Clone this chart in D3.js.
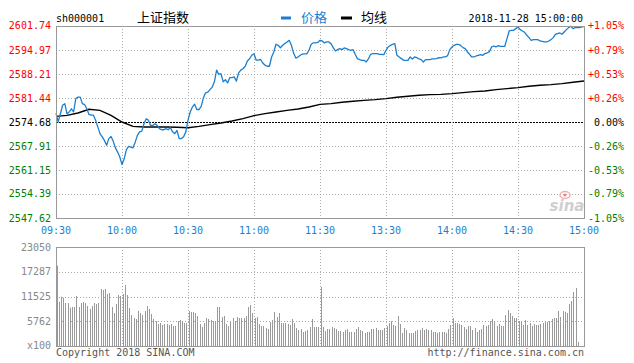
<!DOCTYPE html>
<html><head><meta charset="utf-8">
<script src="https://cdn.jsdelivr.net/npm/d3@7/dist/d3.min.js"></script>
<style>
html,body{margin:0;padding:0;background:#fff;}
svg{display:block;}
</style></head>
<body><div id="chart"></div>
<script>
// ---------- DATA ----------
const symbol = "sh000001";
const indexName = "上证指数";
const legendNames = ["价格", "均线"];
const timestamp = "2018-11-28 15:00:00";
const priceTicks = [2601.74, 2594.97, 2588.21, 2581.44, 2574.68, 2567.91, 2561.15, 2554.39, 2547.62];
const pctLabels = ["+1.05%", "+0.79%", "+0.53%", "+0.26%", "0.00%", "-0.26%", "-0.53%", "-0.79%", "-1.05%"];
const prevClose = 2574.68;
const timeTickMinutes = [0, 30, 60, 90, 120, 150, 180, 210, 240];
const timeLabels = ["09:30", "10:00", "10:30", "11:00", "11:30", "13:30", "14:00", "14:30", "15:00"];
const volTicks = [23050, 17287, 11525, 5762];
const volUnitLabel = "x100";

// minute-by-minute price (0 = 09:30 ... 120 = 11:30/13:00 ... 240 = 15:00)
const prices = [
 2577.2,2574.7,2577.0,2579.4,2579.85,2577.0,2577.5,2578.4,2577.5,2581.3,
 2581.7,2581.7,2579.85,2579.6,2578.4,2576.8,2576.6,2576.6,2575.2,2573.3,
 2571.4,2570.5,2569.5,2568.1,2570.0,2570.6,2569.3,2567.4,2566.2,2564.8,
 2562.7,2564.3,2566.9,2567.8,2567.6,2567.4,2569.0,2570.9,2571.9,2572.1,
 2574.2,2575.6,2575.2,2573.7,2573.7,2574.2,2573.7,2572.8,2572.5,2572.5,
 2572.8,2572.5,2573.1,2571.9,2571.4,2572.3,2570.0,2570.0,2570.5,2571.9,
 2575.2,2577.5,2578.9,2579.7,2578.2,2578.2,2579.1,2581.5,2582.9,2583.1,
 2583.8,2584.5,2586.0,2589.3,2588.1,2588.3,2586.0,2586.6,2585.7,2587.2,
 2587.2,2587.4,2586.2,2588.5,2589.3,2589.7,2590.4,2591.9,2592.5,2593.5,
 2593.9,2592.1,2592.1,2592.3,2591.3,2590.7,2590.4,2590.4,2593.0,2594.4,
 2596.6,2596.3,2595.6,2596.3,2596.8,2597.2,2597.7,2596.3,2594.1,2592.7,
 2593.0,2593.5,2593.8,2593.9,2593.9,2594.9,2596.6,2597.0,2597.0,2597.1,
 2597.7,
 2597.52,2596.96,2597.24,2597.24,2596.77,2595.64,2594.70,2595.08,2595.36,2595.08,
 2595.55,2595.36,2595.08,2594.89,2595.08,2593.76,2592.54,2592.26,2592.07,2592.07,
 2591.60,2592.45,2593.76,2593.95,2593.95,2593.95,2593.76,2593.76,2593.67,2594.89,
 2595.83,2596.30,2596.58,2596.77,2593.48,2593.01,2592.54,2592.07,2592.07,2592.07,
 2593.01,2592.45,2593.01,2592.82,2592.45,2592.26,2591.60,2592.26,2592.26,2592.26,
 2592.45,2592.45,2592.54,2592.82,2592.73,2593.01,2593.01,2593.39,2595.08,2595.83,
 2596.30,2596.58,2596.58,2596.21,2595.64,2595.36,2594.42,2593.76,2593.01,2593.01,
 2593.29,2593.48,2593.67,2593.48,2593.95,2594.14,2594.51,2595.83,2596.11,2595.83,
 2596.21,2596.02,2596.02,2596.02,2598.18,2600.34,2600.53,2600.53,2601.00,2601.47,
 2600.72,2600.34,2599.97,2599.12,2598.46,2597.71,2597.90,2597.90,2597.90,2597.52,
 2597.43,2597.24,2597.24,2597.52,2597.90,2598.46,2599.40,2599.59,2599.78,2599.40,
 2600.06,2600.72,2601.28,2601.66,2601.00,2601.28,2601.28,2601.28,2601.47,2601.56
];

// average price line, sampled every 5 minutes
const avgMinutes = [0,5,10,15,20,25,30,35,40,45,50,55,60,65,70,75,80,85,90,95,100,105,110,115,120,
  125,130,135,140,145,150,155,160,165,170,175,180,185,190,195,200,205,210,215,220,225,230,235,240];
const avgValues = [2576.28,2576.56,2577.22,2578.25,2577.97,2576.56,2574.68,2573.46,2573.27,2573.27,
  2573.27,2573.18,2573.08,2573.46,2573.93,2574.40,2574.96,2575.62,2576.47,2577.03,2577.50,2577.97,
  2578.35,2578.91,2579.66,2579.85,2580.23,2580.51,2580.79,2580.98,2581.26,2581.64,2581.92,2582.20,
  2582.39,2582.48,2582.67,2582.95,2583.23,2583.42,2583.80,2584.08,2584.36,2584.74,2585.02,2585.21,
  2585.49,2585.87,2586.24];

// minute volume (x100)
const volumes = [
 18700,10320,11480,11250,10010,10010,8920,9080,9080,11640,
 9080,10010,10240,10010,9310,8610,9310,10010,9780,10010,
 13270,13040,13270,12110,12340,9080,7680,9780,11870,11640,
 12110,14200,11870,8850,7220,6520,6290,8150,7680,7220,
 8150,9310,8610,7450,6290,5820,5120,5350,4890,5120,
 5120,4890,5120,4660,4660,5820,6050,5590,5350,5350,
 8150,7920,7920,7680,6980,5120,4420,5350,6520,6290,
 6050,5820,5820,9080,9080,6750,6980,5120,4660,5590,
 6520,5820,6750,6520,6520,6520,6980,9080,9540,7680,
 6520,6750,5120,4660,4660,4190,3960,5590,6050,7920,
 6750,7680,5350,5350,5350,5120,4890,6290,5350,4190,
 3720,3960,3260,3490,3720,4420,6290,4420,4420,4420,
 13735,
 4420,3490,3960,3960,4420,4190,3960,3490,3490,3260,
 3720,3960,3260,3260,3260,3960,4420,3720,3490,3030,
 3260,3260,3960,3960,4190,3720,3720,3720,4190,4660,
 5350,5820,4890,4660,6980,5120,3030,4190,3720,3030,
 3030,3030,3490,3720,3720,4190,3720,3960,3720,3720,
 3260,3260,3030,3260,3260,3260,3030,3960,4890,6520,
 5350,5350,5120,4890,4420,3960,4660,4660,3720,4190,
 3260,3720,3960,
 4890,4660,4890,5820,6290,5590,4660,5120,4660,4660,
 7220,8380,7680,6980,6520,6520,5820,5820,4890,6050,
 4890,5350,4660,5120,4890,4890,5120,5350,5590,5590,
 5820,6290,6520,6520,8150,6750,8150,7920,7680,9780,
 10480,12570,13500,930,
 0,0,0
];

// ---------- DRAW ----------
const W = 634, H = 363;
const L = 56, R = 584, PT = 26, PB = 218, VT = 247, VB = 346;
const mono = "'DejaVu Sans Mono', 'Liberation Mono', monospace";
const cjk = "'Noto Sans CJK SC', sans-serif";
const blue = "#1a7fd0", gridC = "#aaa", borderC = "#999";
const red = "#ff0000", green = "#008000";

const svg = d3.select("#chart").append("svg").attr("width", W).attr("height", H);

const x = d3.scaleLinear().domain([0, 240]).range([L, R]);
const y = d3.scaleLinear().domain([priceTicks[priceTicks.length-1], priceTicks[0]]).range([PB, PT]);
const yv = d3.scaleLinear().domain([0, volTicks[0]]).range([VB, VT]);
const px = v => Math.round(v) + 0.5;

// ---- header ----
svg.append("text").attr("x", L).attr("y", 18).attr("dy", "0.35em")
  .attr("font-family", mono).attr("font-size", 10).attr("fill", "#000").text(symbol);
svg.append("text").attr("x", 137).attr("y", 17).attr("dy", "0.36em")
  .attr("font-family", cjk).attr("font-size", 13).attr("fill", "#000").text(indexName);
svg.append("line").attr("x1", 281).attr("x2", 291).attr("y1", 18).attr("y2", 18)
  .attr("stroke", blue).attr("stroke-width", 3);
svg.append("text").attr("x", 301).attr("y", 17).attr("dy", "0.36em")
  .attr("font-family", cjk).attr("font-size", 13).attr("fill", blue).text(legendNames[0]);
svg.append("line").attr("x1", 341).attr("x2", 352).attr("y1", 18).attr("y2", 18)
  .attr("stroke", "#000").attr("stroke-width", 3);
svg.append("text").attr("x", 361).attr("y", 17).attr("dy", "0.36em")
  .attr("font-family", cjk).attr("font-size", 13).attr("fill", "#000").text(legendNames[1]);
svg.append("text").attr("x", 583).attr("y", 18).attr("dy", "0.35em").attr("text-anchor", "end")
  .attr("font-family", mono).attr("font-size", 10).attr("fill", "#000").text(timestamp);

// ---- price grid ----
const gPrice = svg.append("g");
priceTicks.forEach((v, i) => {
  if (i === 0 || i === priceTicks.length - 1) return;
  const yy = px(y(v));
  const base = Math.abs(v - prevClose) < 1e-6;
  gPrice.append("line").attr("x1", L).attr("x2", R).attr("y1", yy).attr("y2", yy)
    .attr("stroke", base ? "#000" : gridC).attr("stroke-width", 1)
    .attr("stroke-dasharray", base ? "2,1" : "1,2");
});
timeTickMinutes.forEach((m, i) => {
  if (i === 0 || i === timeTickMinutes.length - 1) return;
  const xx = px(x(m));
  gPrice.append("line").attr("x1", xx).attr("x2", xx).attr("y1", PT).attr("y2", PB)
    .attr("stroke", gridC).attr("stroke-dasharray", "1,2");
});

// sina watermark
const wm = svg.append("g");
wm.append("ellipse").attr("cx", 565).attr("cy", 195).attr("rx", 5).attr("ry", 3.5)
  .attr("fill", "none").attr("stroke", "#f3b0b0").attr("stroke-width", 1.5);
wm.append("circle").attr("cx", 565).attr("cy", 195).attr("r", 1.5).attr("fill", "#e88");
wm.append("text").attr("x", 567).attr("y", 211).attr("text-anchor", "middle")
  .attr("font-family", "'DejaVu Sans', sans-serif").attr("font-size", 15).attr("font-style", "italic")
  .attr("font-weight", "bold").attr("fill", "#cfcfcf").text("sina");

// ---- price & average lines ----
const line = d3.line().x(d => x(d[0])).y(d => y(d[1]));
svg.append("path").datum(avgMinutes.map((m, i) => [m, avgValues[i]]))
  .attr("d", line).attr("fill", "none").attr("stroke", "#000").attr("stroke-width", 1.4);
svg.append("path").datum(prices.map((p, i) => [i, p]))
  .attr("d", line).attr("fill", "none").attr("stroke", blue).attr("stroke-width", 1.3)
  .attr("stroke-linejoin", "round");

// border
svg.append("rect").attr("x", L + 0.5).attr("y", PT + 0.5).attr("width", R - L).attr("height", PB - PT)
  .attr("fill", "none").attr("stroke", borderC);

// price axis labels
priceTicks.forEach((v, i) => {
  const c = v > prevClose + 1e-6 ? red : (v < prevClose - 1e-6 ? green : "#000");
  const yy = i === 0 ? 25 : y(v);
  svg.append("text").attr("x", 51).attr("y", yy).attr("dy", "0.35em").attr("text-anchor", "end")
    .attr("font-family", mono).attr("font-size", 10).attr("fill", c).text(v.toFixed(2));
  svg.append("text").attr("x", 624).attr("y", yy).attr("dy", "0.35em").attr("text-anchor", "end")
    .attr("font-family", mono).attr("font-size", 10).attr("fill", c).text(pctLabels[i]);
});

// time labels
timeTickMinutes.forEach((m, i) => {
  svg.append("text").attr("x", x(m)).attr("y", 230).attr("dy", "0.35em").attr("text-anchor", "middle")
    .attr("font-family", mono).attr("font-size", 10).attr("fill", blue).text(timeLabels[i]);
});

// ---- volume panel ----
const gVol = svg.append("g");
gVol.selectAll("rect.bar").data(volumes).join("rect").attr("class", "bar")
  .attr("x", (d, i) => Math.floor(x(i)) + 1).attr("width", 1)
  .attr("y", d => yv(d)).attr("height", d => VB - yv(d))
  .attr("fill", "#999");
volTicks.forEach((v, i) => {
  if (i === 0) return;
  const yy = px(yv(v));
  gVol.append("line").attr("x1", L).attr("x2", R).attr("y1", yy).attr("y2", yy)
    .attr("stroke", gridC).attr("stroke-dasharray", "1,2");
});
timeTickMinutes.forEach((m, i) => {
  if (i === 0 || i === timeTickMinutes.length - 1) return;
  const xx = px(x(m));
  gVol.append("line").attr("x1", xx).attr("x2", xx).attr("y1", VT).attr("y2", VB)
    .attr("stroke", gridC).attr("stroke-dasharray", "1,2");
});
svg.append("rect").attr("x", L + 0.5).attr("y", VT + 0.5).attr("width", R - L).attr("height", VB - VT)
  .attr("fill", "none").attr("stroke", borderC);

volTicks.forEach(v => {
  svg.append("text").attr("x", 51).attr("y", yv(v)).attr("dy", "0.35em").attr("text-anchor", "end")
    .attr("font-family", mono).attr("font-size", 10).attr("fill", "#888").text(v);
});
svg.append("text").attr("x", 51).attr("y", 345).attr("dy", "0.35em").attr("text-anchor", "end")
  .attr("font-family", mono).attr("font-size", 10).attr("fill", "#888").text(volUnitLabel);

// footer
svg.append("text").attr("x", L).attr("y", 352).attr("dy", "0.35em")
  .attr("font-family", mono).attr("font-size", 10).attr("fill", "#555").text("Copyright 2018 SINA.COM");
svg.append("text").attr("x", 584).attr("y", 352).attr("dy", "0.35em").attr("text-anchor", "end")
  .attr("font-family", mono).attr("font-size", 10).attr("fill", "#555").text("http://finance.sina.com.cn");
</script>
</body></html>
